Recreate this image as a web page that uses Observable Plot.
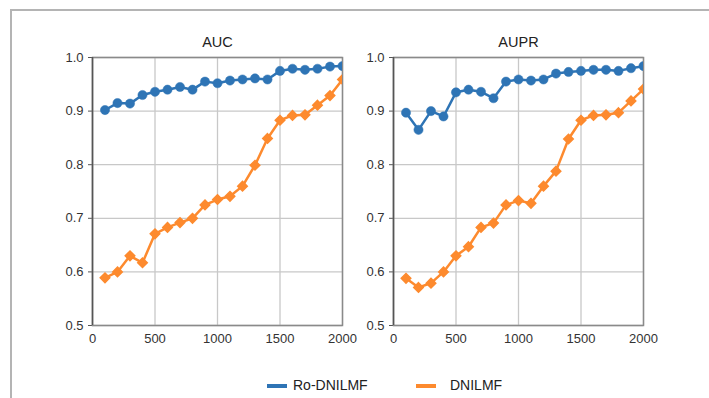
<!DOCTYPE html>
<html>
<head>
<meta charset="utf-8">
<script src="https://cdn.jsdelivr.net/npm/d3@7"></script>
<script src="https://cdn.jsdelivr.net/npm/@observablehq/plot@0.6"></script>
<style>
  html, body { margin: 0; padding: 0; background: #fff; }
  #wrap { position: relative; width: 709px; height: 398px; overflow: hidden; font-family: "Liberation Sans", Arial, sans-serif; }
  #frame { position: absolute; left: 10px; top: 9px; width: 760px; height: 460px; border-top: 2px solid #b4b4b4; border-left: 2px solid #b4b4b4; }
  .panel { position: absolute; top: 0; }
  #legend { position: absolute; top: 377px; left: 0; width: 709px; height: 20px; font-size: 14px; color: #222; }
  .sw { position: absolute; top: 7px; width: 20px; height: 4px; }
  .lt { position: absolute; top: 0; }
</style>
</head>
<body>
<div id="wrap">
  <div id="frame"></div>
  <div id="p1" class="panel" style="left:0px"></div>
  <div id="p2" class="panel" style="left:301px"></div>
  <div id="legend">
    <div class="sw" style="left:267px;background:#2e74b5"></div>
    <div class="lt" style="left:293px">Ro-DNILMF</div>
    <div class="sw" style="left:416px;background:#fd8a2e"></div>
    <div class="lt" style="left:450px">DNILMF</div>
  </div>
</div>
<script>
const xs = [100,200,300,400,500,600,700,800,900,1000,1100,1200,1300,1400,1500,1600,1700,1800,1900,2000];
const aucRo  = [0.902,0.915,0.914,0.930,0.936,0.940,0.945,0.940,0.955,0.952,0.957,0.959,0.961,0.959,0.975,0.979,0.977,0.979,0.983,0.984];
const aucDn  = [0.589,0.600,0.630,0.617,0.671,0.683,0.692,0.700,0.725,0.735,0.741,0.760,0.799,0.849,0.883,0.892,0.893,0.911,0.929,0.959];
const auprRo = [0.897,0.865,0.900,0.890,0.935,0.940,0.936,0.924,0.955,0.959,0.957,0.959,0.970,0.973,0.975,0.977,0.977,0.975,0.980,0.984];
const auprDn = [0.588,0.571,0.579,0.600,0.630,0.647,0.683,0.691,0.725,0.733,0.728,0.760,0.788,0.848,0.883,0.892,0.893,0.897,0.919,0.941];
const titles = ["AUC", "AUPR"];
const xTicks = [0, 500, 1000, 1500, 2000];
const yTicks = [0.5, 0.6, 0.7, 0.8, 0.9, 1.0];
const blue = "#2e74b5", orange = "#fd8a2e";

function panel(title, ro, dn) {
  const dRo = xs.map((x, i) => ({x, y: ro[i]}));
  const dDn = xs.map((x, i) => ({x, y: dn[i]}));
  return Plot.plot({
    width: 360, height: 360,
    marginLeft: 92, marginRight: 18, marginTop: 57, marginBottom: 35,
    style: {fontFamily: "'Liberation Sans', Arial, sans-serif", fontSize: "13px", color: "#333", background: "transparent", overflow: "visible"},
    x: {domain: [0, 2000]},
    y: {domain: [0.5, 1.0]},
    marks: [
      Plot.gridX(xTicks, {stroke: "#c8c8c8", strokeOpacity: 1, strokeWidth: 1.3}),
      Plot.gridY(yTicks, {stroke: "#c8c8c8", strokeOpacity: 1, strokeWidth: 1.3}),
      Plot.axisX(xTicks, {tickFormat: d => String(d), tickSize: 0, tickPadding: 8, label: null}),
      Plot.axisY(yTicks, {tickFormat: d => d.toFixed(1), tickSize: 4, tickPadding: 5, label: null, stroke: "#555"}),
      Plot.frame({stroke: "#8a8a8a", strokeWidth: 1.5}),
      Plot.ruleX([0], {stroke: "#555", strokeWidth: 1.5}),
      Plot.lineY(dDn, {x: "x", y: "y", stroke: orange, strokeWidth: 2.5, clip: true}),
      Plot.dot(dDn, {x: "x", y: "y", symbol: "diamond2", r: 4.3, fill: orange, stroke: orange, strokeWidth: 1.5, clip: true}),
      Plot.lineY(dRo, {x: "x", y: "y", stroke: blue, strokeWidth: 2.5, clip: true}),
      Plot.dot(dRo, {x: "x", y: "y", r: 4.6, fill: blue, stroke: blue, strokeWidth: 0.5, clip: true}),
      Plot.text([title], {frameAnchor: "top", dy: -15, lineAnchor: "middle", fontSize: 14.5, fill: "#222", text: d => d})
    ]
  });
}
document.getElementById("p1").appendChild(panel(titles[0], aucRo, aucDn));
document.getElementById("p2").appendChild(panel(titles[1], auprRo, auprDn));
</script>
</body>
</html>
